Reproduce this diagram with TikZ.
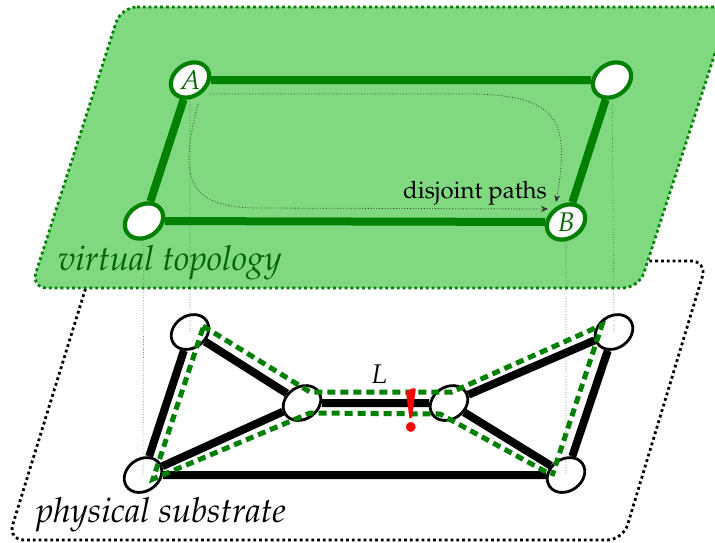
\documentclass[tikz,border=0pt]{standalone}
\usepackage[T1]{fontenc}
\usepackage{mathpazo}
\usetikzlibrary{arrows.meta, positioning, calc, shapes.geometric}
\definecolor{vtfill}{RGB}{128, 217, 128}
\definecolor{vtgreen}{RGB}{0, 128, 0}
\definecolor{vttext}{RGB}{0, 100, 0}

\begin{document}
\begin{tikzpicture}[
    x=0.5pt, y=-0.5pt,
    vnode/.style={ellipse, draw=vtgreen, fill=white, line width=2.1pt, minimum width=20.5pt,
        minimum height=16pt, inner sep=0pt, rotate=35},
    pnode/.style={ellipse, draw=black, fill=white, line width=1.4pt, minimum width=20pt,
        minimum height=16pt, inner sep=0pt, rotate=35},
    vlink/.style={line width=4pt, draw=vtgreen},
    plink/.style={line width=4pt, draw=black},
    vpath/.style={line width=2.5pt, draw=vtgreen, dash pattern=on 4pt off 2.5pt},
    guide/.style={line width=0.3pt, draw=vtgreen, densely dotted},
    route/.style={-{Stealth[length=3.5pt, width=3pt]}, line width=0.4pt, densely dotted, draw=black!80},
    nodelabel/.style={font=\fontsize{13.5}{15}\selectfont, text=vttext},
    layerlabel/.style={font=\LARGE\itshape, anchor=base west},
    plane/.style={rounded corners=8pt, line width=1.4pt, dash pattern=on 1.4pt off 1.5pt}
]

% === Frame ===
\useasboundingbox (0, 0) rectangle (715, 542);

% === Planes ===
\draw[plane, draw=black] (94, 261) -- (707, 261) -- (623, 540) -- (8, 540) -- cycle;
\draw[plane, draw=vtgreen, fill=vtfill] (121, 7) -- (730, 7) -- (639, 288) -- (31, 288) -- cycle;

% === Virtual topology ===
\node[vnode] (A) at (190, 80) {};
\node[vnode] (vtr) at (612, 80) {};
\node[vnode] (vbl) at (144, 221) {};
\node[vnode] (B) at (566, 222) {};

% === Physical substrate ===
\node[pnode] (ptl) at (190, 332) {};
\node[pnode] (pbl) at (143, 475) {};
\node[pnode] (pml) at (302, 403) {};
\node[pnode] (pmr) at (449, 403) {};
\node[pnode] (ptr) at (614, 332) {};
\node[pnode] (pbr) at (566, 475) {};

% === Links ===
\draw[vlink] (A) -- (vtr);
\draw[vlink] (vtr) -- (B);
\draw[vlink] (B) -- (vbl);
\draw[vlink] (vbl) -- (A);

\draw[plink] (ptl) -- (pbl);
\draw[plink] (ptl) -- (pml);
\draw[plink] (pbl) -- (pml);
\draw[plink] (pml) -- (pmr);
\draw[plink] (pbl) -- (pbr);
\draw[plink] (pmr) -- (ptr);
\draw[plink] (pmr) -- (pbr);
\draw[plink] (ptr) -- (pbr);

% === Embedded paths ===
\draw[vpath] ([shift={(13,-6)}]ptl.center) -- ([shift={(8,-11)}]pml.center)
    -- ([shift={(3,-11)}]pmr.center) -- ([shift={(-12,-7)}]ptr.center)
    -- ([shift={(-14,1)}]pbr.center);
\draw[vpath] ([shift={(13,-4)}]ptl.center) -- ([shift={(10,4)}]pbl.center)
    -- ([shift={(8,10)}]pml.center) -- ([shift={(-9,11)}]pmr.center)
    -- ([shift={(-16,-1)}]pbr.center);

% === Mapping guides ===
\draw[guide] (A) -- (ptl.center);
\draw[guide] (vbl) -- (pbl.center);
\draw[guide] (B) -- (pbr.center);
\draw[guide] (vtr) -- (ptr.center);

% === Labels ===
\node[nodelabel] at (A) {$A$};
\node[nodelabel] at (B) {$B$};
\node[font=\large] (dpaths) at (475, 193) {disjoint paths};
\node[font=\fontsize{13.5}{15}\selectfont] (llabel) at (379, 374) {$L$};
\node[text=red, font=\fontsize{31}{31}\selectfont\bfseries] (fail) at (411, 410) {!};
\node[layerlabel, text=vttext] (vtlabel) at (51, 270) {virtual topology};
\node[layerlabel] (pslabel) at (29, 522) {physical substrate};

% === Disjoint paths A -> B ===
\draw[route] ([shift={(20,14)}]A.center) -- ([shift={(280,14)}]A.center)
    .. controls ($(A)+(370,15)$) and ($(B)+(4,-100)$) .. ([shift={(-10,-20)}]B.center);
\draw[route] ([shift={(8,24)}]A.center) .. controls ($(A)+(-12,100)$) and ($(A)+(-2,128)$)
    .. ([shift={(-306,-14)}]B.center) -- ([shift={(-18,-13)}]B.center);

\end{tikzpicture}
\end{document}
